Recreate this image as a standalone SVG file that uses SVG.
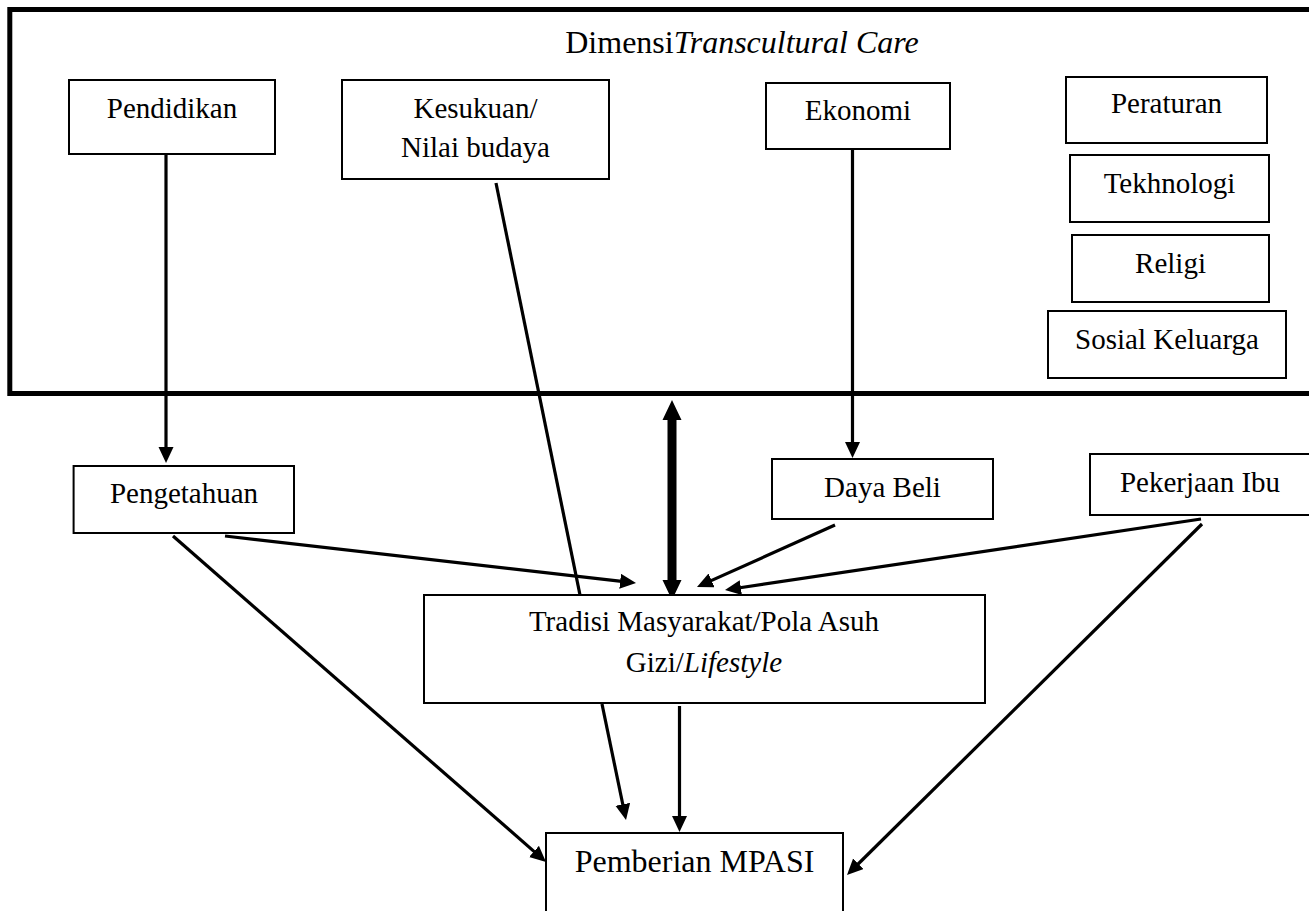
<svg xmlns="http://www.w3.org/2000/svg" width="1309" height="911" viewBox="0 0 1309 911">
  <style>
    text { font-family: "Liberation Serif", "Times New Roman", serif; font-size: 29px; fill: #000; text-anchor: middle; }
    .big { font-size: 32px; }
    .box { fill: #fff; stroke: #000; stroke-width: 2; }
    .con { fill: none; stroke: #000; stroke-width: 3.2; }
    .frame { fill: none; stroke: #000; stroke-width: 5; }
  </style>
  <defs>
    <marker id="ah" markerUnits="userSpaceOnUse" markerWidth="16" markerHeight="16" refX="6" refY="7.5" orient="auto">
      <path d="M0,0 L16,7.5 L0,15 z" fill="#000"/>
    </marker>
  </defs>
  <rect width="1309" height="911" fill="#fff"/>

  <g id="frame">
    <path class="frame" d="M1315,9.5 H9.8 V393.5 H1315"/>
    <text class="big" x="742" y="53">Dimensi<tspan font-style="italic">Transcultural Care</tspan></text>
  </g>

  <g id="connectors">
    <line class="con" x1="166" y1="154" x2="166" y2="453" marker-end="url(#ah)"/>
    <line class="con" x1="852.5" y1="149" x2="852.5" y2="448" marker-end="url(#ah)"/>
    <line class="con" x1="496" y1="183" x2="580" y2="595"/>
    <line class="con" x1="225" y1="536" x2="626.1" y2="581.9" marker-end="url(#ah)"/>
    <line class="con" x1="173" y1="536" x2="538.5" y2="855.4" marker-end="url(#ah)"/>
    <line class="con" x1="835" y1="525" x2="706.1" y2="582.9" marker-end="url(#ah)"/>
    <line class="con" x1="1201" y1="519" x2="734.9" y2="588.5" marker-end="url(#ah)"/>
    <line class="con" x1="1202" y1="524" x2="854.1" y2="868" marker-end="url(#ah)"/>
    <line class="con" x1="602" y1="704" x2="624" y2="810.2" marker-end="url(#ah)"/>
    <line class="con" x1="679.5" y1="706" x2="679.5" y2="822" marker-end="url(#ah)"/>
    <polygon points="672,400 681.5,420 676.5,420 676.5,580 681.5,580 672,600 662.5,580 667.5,580 667.5,420 662.5,420" fill="#000"/>
  </g>

  <g id="pendidikan">
    <rect class="box" x="69" y="80" width="206" height="74"/>
    <text x="172" y="118">Pendidikan</text>
  </g>
  <g id="kesukuan">
    <rect class="box" x="342" y="80" width="267" height="99"/>
    <text x="475.5" y="118">Kesukuan/</text>
    <text x="475.5" y="157">Nilai budaya</text>
  </g>
  <g id="ekonomi">
    <rect class="box" x="766" y="83" width="184" height="66"/>
    <text x="858" y="120">Ekonomi</text>
  </g>
  <g id="peraturan">
    <rect class="box" x="1066" y="77" width="201" height="66"/>
    <text x="1166.5" y="113">Peraturan</text>
  </g>
  <g id="tekhnologi">
    <rect class="box" x="1070" y="155" width="199" height="67"/>
    <text x="1169.5" y="193">Tekhnologi</text>
  </g>
  <g id="religi">
    <rect class="box" x="1072" y="235" width="197" height="67"/>
    <text x="1170.5" y="273">Religi</text>
  </g>
  <g id="sosial-keluarga">
    <rect class="box" x="1048" y="311" width="238" height="67"/>
    <text x="1167" y="349">Sosial Keluarga</text>
  </g>
  <g id="pengetahuan">
    <rect class="box" x="73.6" y="466" width="220.4" height="67"/>
    <text x="184" y="503">Pengetahuan</text>
  </g>
  <g id="daya-beli">
    <rect class="box" x="772" y="459" width="221" height="60"/>
    <text x="882.5" y="497">Daya Beli</text>
  </g>
  <g id="pekerjaan-ibu">
    <rect class="box" x="1090" y="454" width="240" height="61"/>
    <text x="1200" y="491.5">Pekerjaan Ibu</text>
  </g>
  <g id="tradisi">
    <rect class="box" x="424" y="595" width="561" height="108"/>
    <text x="704" y="631">Tradisi Masyarakat/Pola Asuh</text>
    <text x="704" y="672">Gizi/<tspan font-style="italic">Lifestyle</tspan></text>
  </g>
  <g id="mpasi">
    <rect class="box" x="546" y="833" width="297" height="90"/>
    <text class="big" x="694.5" y="872">Pemberian MPASI</text>
  </g>
</svg>
